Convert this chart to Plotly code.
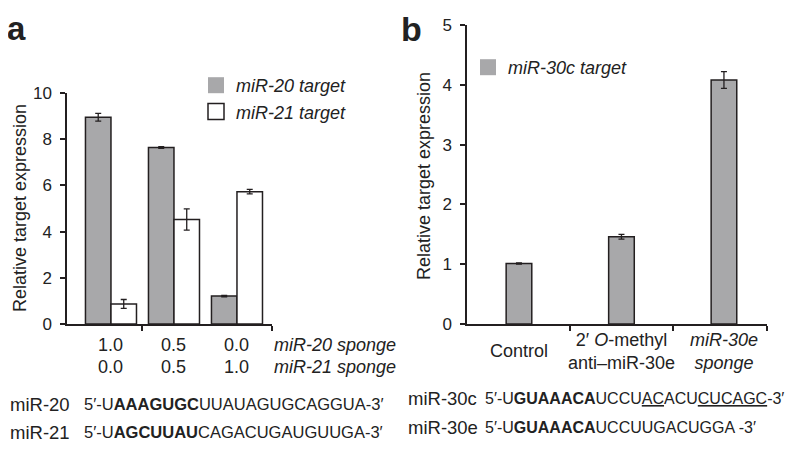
import plotly.graph_objects as go

# ---- data ----
groups_a = [0, 1, 2]
mir20_sponge = ["1.0", "0.5", "0.0"]
mir21_sponge = ["0.0", "0.5", "1.0"]
mir20_target = [8.95, 7.64, 1.21]
mir20_err = [0.17, 0.04, 0.03]
mir21_target = [0.87, 4.52, 5.73]
mir21_err = [0.19, 0.46, 0.10]

groups_b = [0, 1, 2]
labels_b = ["Control", "2′ <i>O</i>-methyl<br>anti–miR-30e", "<i>miR-30e<br>sponge</i>"]
mir30c_target = [1.01, 1.46, 4.08]
mir30c_err = [0.01, 0.04, 0.14]

seq_names_a = ["miR-20", "miR-21"]
seqs_a = ["5′-U<b>AAAGUGC</b>UUAUAGUGCAGGUA-3′",
          "5′-U<b>AGCUUAU</b>CAGACUGAUGUUGA-3′"]
seq_names_b = ["miR-30c", "miR-30e"]
seqs_b = ["5′-U<b>GUAAACA</b>UCCU<u>AC</u>ACU<u>CUCAGC</u>-3′",
          "5′-U<b>GUAAACA</b>UCCUUGACUGGA -3′"]

FONT = "Liberation Sans, Arial, sans-serif"
GRAY = "#a8a8aa"
EDGE = "#231f20"
W, H = 800, 452
OFF = 8  # page body margin

def px(x):
    return (x - OFF) / W

def py(y):
    return 1 - (y - OFF) / H

fig = go.Figure()

err_style = dict(type="data", color=EDGE, thickness=1.3, width=3)
fig.add_trace(go.Bar(x=groups_a, y=mir20_target, error_y=dict(array=mir20_err, **err_style),
                     marker=dict(color=GRAY, line=dict(color=EDGE, width=1.5)),
                     offsetgroup="a1", xaxis="x", yaxis="y", showlegend=False))
fig.add_trace(go.Bar(x=groups_a, y=mir21_target, error_y=dict(array=mir21_err, **err_style),
                     marker=dict(color="white", line=dict(color=EDGE, width=1.5)),
                     offsetgroup="a2", xaxis="x", yaxis="y", showlegend=False))
fig.add_trace(go.Bar(x=groups_b, y=mir30c_target, error_y=dict(array=mir30c_err, **err_style),
                     marker=dict(color=GRAY, line=dict(color=EDGE, width=1.5)),
                     width=0.25, xaxis="x2", yaxis="y2", showlegend=False))

# legend swatches
for name, col, lg in [("<i>miR-20 target</i>", GRAY, "legend"),
                      ("<i>miR-21 target</i>", "white", "legend"),
                      ("<i>miR-30c target</i>", GRAY, "legend2")]:
    lw = 1.5 if col == "white" else 0
    fig.add_trace(go.Scatter(x=[None], y=[None], mode="markers", name=name, legend=lg,
                             marker=dict(symbol="square", size=16, color=col,
                                         line=dict(color=EDGE, width=lw)),
                             xaxis="x", yaxis="y"))

axis_common = dict(showline=True, linecolor=EDGE, linewidth=1.5, showgrid=False,
                   zeroline=False, ticks="outside", ticklen=5, tickwidth=1.5,
                   tickcolor=EDGE, automargin=False,
                   tickfont=dict(family=FONT, size=17, color="#222"))

fig.update_layout(
    template="none",
    width=W, height=H, margin=dict(l=0, r=0, t=0, b=0, pad=0, autoexpand=False),
    paper_bgcolor="white", plot_bgcolor="white",
    barmode="group", bargap=0.19, bargroupgap=0,
    font=dict(family=FONT, size=18, color="#222"),
    xaxis=dict(domain=[px(67), px(272)], range=[-0.698, 2.556], tickvals=[0.5, 2.556],
               showticklabels=False, **axis_common),
    yaxis=dict(domain=[py(324), py(93)], range=[0, 10], tickvals=[0, 2, 4, 6, 8, 10],
               ticklabelstandoff=5, **axis_common),
    xaxis2=dict(domain=[px(467), px(767)], range=[-0.507, 2.42], tickvals=[0.5, 1.5, 2.42],
                showticklabels=False, anchor="y2", **axis_common),
    yaxis2=dict(domain=[py(324), py(25)], range=[0, 5], tickvals=[0, 1, 2, 3, 4, 5],
                ticklabelstandoff=5, anchor="x2", **axis_common),
    legend=dict(x=px(196), y=py(67), xanchor="left", yanchor="top", bgcolor="rgba(0,0,0,0)",
                font=dict(family=FONT, size=18, color="#222"), itemwidth=30, tracegroupgap=0),
    legend2=dict(x=px(468), y=py(49), xanchor="left", yanchor="top", bgcolor="rgba(0,0,0,0)",
                 font=dict(family=FONT, size=18, color="#222"), itemwidth=30),
)

ann = []
# panel letters
ann.append(dict(text="<b>a</b>", x=px(5), y=py(8), xanchor="left", yanchor="top",
                font=dict(family=FONT, size=33, color="#222")))
ann.append(dict(text="<b>b</b>", x=px(399), y=py(8), xanchor="left", yanchor="top",
                font=dict(family=FONT, size=34, color="#222")))
# y titles
ann.append(dict(text="Relative target expression", x=px(20), y=py(208), textangle=-90,
                xanchor="center", yanchor="middle", font=dict(size=18)))
ann.append(dict(text="Relative target expression", x=px(424), y=py(176), textangle=-90,
                xanchor="center", yanchor="middle", font=dict(size=18)))
# panel a x labels
for g, s20, s21 in zip(groups_a, mir20_sponge, mir21_sponge):
    ann.append(dict(text=s20, x=g, xref="x", y=py(345), yanchor="middle", showarrow=False))
    ann.append(dict(text=s21, x=g, xref="x", y=py(367), yanchor="middle", showarrow=False))
ann.append(dict(text="<i>miR-20 sponge</i>", x=px(272), y=py(345), xanchor="left", yanchor="middle"))
ann.append(dict(text="<i>miR-21 sponge</i>", x=px(272), y=py(367), xanchor="left", yanchor="middle"))
# panel b x labels
for g, lab in zip(groups_b, labels_b):
    ann.append(dict(text=lab, x=g, xref="x2", y=py(351), yanchor="middle", showarrow=False))
# sequences
for i, (n, s) in enumerate(zip(seq_names_a, seqs_a)):
    yy = py([404, 432][i])
    ann.append(dict(text=n, x=px(8), y=yy, xanchor="left", yanchor="middle", font=dict(size=18.5)))
    ann.append(dict(text=s, x=px(82), y=yy, xanchor="left", yanchor="middle", font=dict(size=16.5)))
for i, (n, s) in enumerate(zip(seq_names_b, seqs_b)):
    yy = py([398, 427][i])
    ann.append(dict(text=n, x=px(406), y=yy, xanchor="left", yanchor="middle", font=dict(size=18.5)))
    ann.append(dict(text=s, x=px(483), y=yy, xanchor="left", yanchor="middle", font=dict(size=16)))

for a in ann:
    a.setdefault("xref", "paper")
    a.setdefault("yref", "paper")
    a["showarrow"] = False
fig.update_layout(annotations=ann)

fig.write_html("out.html")
